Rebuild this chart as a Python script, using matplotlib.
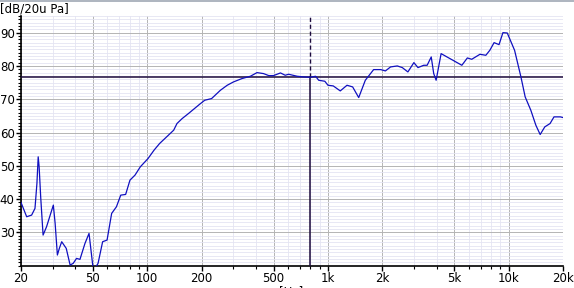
import numpy as np
import matplotlib
matplotlib.use("Agg")
import matplotlib.pyplot as plt
from matplotlib.ticker import FixedLocator, FixedFormatter, MultipleLocator, NullFormatter

# frequency response (Hz, dB re 20uPa)
freq = [20, 21.5, 22.9, 23.9, 24.5, 24.9, 25.2, 25.7, 26.5, 27.7, 30.2, 30.9,
        31.8, 32.6, 33.6, 35.6, 37.4, 38.9, 40.6, 42.4, 45.2, 47.6, 50.3, 53.4,
        56.6, 59.9, 63.5, 67.5, 71.3, 75.9, 80.2, 85.5, 91.5, 101, 109, 117,
        128, 140, 146, 156, 169, 196, 208, 227, 254, 277, 300, 334, 372, 405,
        440, 470, 500, 546, 580, 606, 676, 735, 800, 854, 889, 961, 1000, 1070,
        1170, 1275, 1370, 1480, 1610, 1790, 1960, 2080, 2220, 2420, 2580, 2770,
        2990, 3150, 3390, 3540, 3730, 3850, 3970, 4230, 4560, 4920, 5510, 5910,
        6250, 6940, 7480, 7870, 8310, 8850, 9300, 9830, 10790, 11700, 12350,
        13270, 14150, 14950, 15860, 16960, 17830, 19340, 20000]
level = [39.0, 34.7, 35.2, 37.2, 44.7, 52.7, 49.7, 40.7, 29.2, 31.7, 38.2, 32.7,
         23.2, 25.2, 27.2, 25.2, 20.2, 20.7, 22.2, 21.9, 26.7, 29.7, 18.5, 20.7,
         27.2, 27.7, 35.7, 37.7, 41.2, 41.4, 45.7, 47.2, 49.7, 52.2, 54.7, 56.7,
         58.7, 60.7, 62.7, 64.2, 65.7, 68.6, 69.7, 70.2, 72.7, 74.2, 75.2, 76.2,
         76.9, 78.0, 77.7, 77.1, 77.1, 77.9, 77.2, 77.5, 76.9, 76.7, 76.6, 76.9,
         75.7, 75.4, 74.2, 74.0, 72.5, 74.2, 73.7, 70.5, 75.7, 78.9, 78.9, 78.5,
         79.7, 80.0, 79.5, 78.2, 81.0, 79.5, 80.2, 80.2, 82.7, 77.7, 75.7, 83.7,
         82.7, 81.7, 80.2, 82.4, 82.0, 83.5, 83.2, 84.7, 87.0, 86.4, 90.0, 89.9,
         84.7, 76.7, 70.7, 66.7, 62.2, 59.4, 61.7, 62.7, 64.7, 64.7, 64.5]

cursor_f = 800
cursor_db = 76.8

major_f = [20, 50, 100, 200, 500, 1000, 2000, 5000, 10000, 20000]
major_lab = ["20", "50", "100", "200", "500", "1k", "2k", "5k", "10k", "20k"]
minor_f = [30, 40, 60, 70, 80, 90, 300, 400, 600, 700, 800, 900,
           3000, 4000, 6000, 7000, 8000, 9000]

navy = "#1c0a3c"
blue = "#1010c0"

fig = plt.figure(figsize=(5.74, 2.88), dpi=100)
ax = fig.add_axes([21 / 574, 22.3 / 288, 542 / 574, 249.7 / 288])

ax.set_xscale("log")
ax.set_xlim(20, 20000)
ax.set_ylim(20, 95)

ax.xaxis.set_major_locator(FixedLocator(major_f))
ax.xaxis.set_major_formatter(FixedFormatter(major_lab))
ax.xaxis.set_minor_locator(FixedLocator(minor_f))
ax.xaxis.set_minor_formatter(NullFormatter())
ax.yaxis.set_major_locator(FixedLocator([30, 40, 50, 60, 70, 80, 90]))
ax.yaxis.set_minor_locator(MultipleLocator(1))

ax.grid(which="minor", color="#e4e4f2", lw=0.6)
ax.grid(which="major", color="#b4b4b4", lw=0.7)
ax.set_axisbelow(True)

for s in ("top", "right"):
    ax.spines[s].set_visible(False)
for s in ("left", "bottom"):
    ax.spines[s].set_color("black")
    ax.spines[s].set_linewidth(1.2)

ax.tick_params(which="major", length=3.5, width=1, labelsize=8.5, pad=1, colors="black")
ax.tick_params(which="minor", length=2, width=0.8, colors="black")

ax.axhline(cursor_db, color=navy, lw=1.1, zorder=3)
ax.plot([cursor_f, cursor_f], [cursor_db, 95], color=navy, lw=1.0, ls=(0, (3, 2)), zorder=3)
ax.plot([cursor_f, cursor_f], [20, cursor_db], color=navy, lw=1.1, zorder=3)

ax.plot(freq, level, color=blue, lw=0.9, zorder=4)

fig.text(0.5 / 574, 1 - 3 / 288, "[dB/20u Pa]", fontsize=8.5, va="top", ha="left")
fig.text(291 / 574, 1 - 285.5 / 288, "[Hz]", fontsize=8.5, va="top", ha="center")
fig.add_artist(plt.Line2D([0, 1], [1 - 0.5 / 288, 1 - 0.5 / 288], color="#a0a8b4", lw=1.2,
                          transform=fig.transFigure))

fig.savefig("out.png", dpi=100)
